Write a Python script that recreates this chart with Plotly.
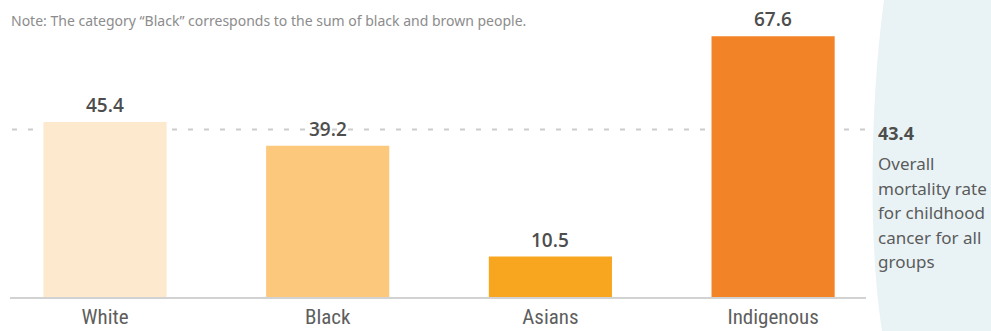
import plotly.graph_objects as go

# ---- data ----
categories = ["White", "Black", "Asians", "Indigenous"]
values = [45.4, 39.2, 10.5, 67.6]
bar_colors = ["#fde9cd", "#fcc87b", "#f8a61f", "#f38327"]
overall_value = 43.4
overall_lines = ["Overall", "mortality rate", "for childhood", "cancer for all", "groups"]
note_text = "Note: The category \u201cBlack\u201d corresponds to the sum of black and brown people."

# ---- layout geometry (pixels) ----
W, H = 991, 331
ML, MR, MT, MB = 10, 125, 27, 34
PW, PH = W - ML - MR, H - MT - MB


def px(x):
    return (x - ML) / PW


def py(y):
    return (H - MB - y) / PH


fig = go.Figure()
fig.add_trace(go.Bar(
    x=list(range(len(categories))),
    y=values,
    marker=dict(color=bar_colors, line=dict(width=0)),
    width=0.553,
    hoverinfo="skip",
))

annotations = []
for i, v in enumerate(values):
    annotations.append(dict(
        x=i, y=v, xref="x", yref="y", text=f"{v:.1f}", showarrow=False,
        yanchor="middle", yshift=17,
        font=dict(family="Open Sans", size=19, color="#4d4d4d", weight=600),
    ))

# overall value label
annotations.append(dict(
    x=px(876), y=overall_value, xref="paper", yref="y", text=f"{overall_value:.1f}",
    showarrow=False, xanchor="left", yanchor="middle", yshift=-3,
    font=dict(family="Noto Sans", size=18, color="#4d4d4d", weight=700),
))
for k, line in enumerate(overall_lines):
    annotations.append(dict(
        x=px(876), y=py(163.5 + 24.5 * k), xref="paper", yref="paper", text=line,
        showarrow=False, xanchor="left", yanchor="middle",
        font=dict(family="Noto Sans", size=17, color="#5b5b5b"),
    ))

# note
annotations.append(dict(
    x=px(9), y=py(20), xref="paper", yref="paper", text=note_text,
    showarrow=False, xanchor="left", yanchor="middle",
    font=dict(family="Noto Sans", size=14, color="#8c8c8c"),
))

shapes = [
    # light blue side panel with curved edge
    dict(type="path", xref="paper", yref="paper", layer="below",
         path=(f"M {px(884)},{py(0)} C {px(869)},{py(110)} {px(869)},{py(250)} {px(882)},{py(H)} "
               f"L {px(W + 5)},{py(H)} L {px(W + 5)},{py(0)} Z"),
         fillcolor="#e9f3f6", line=dict(width=0)),
    # dashed overall line
    dict(type="line", xref="paper", yref="y", x0=px(12), x1=px(866),
         y0=overall_value, y1=overall_value, layer="below",
         line=dict(color="#cccccc", width=2, dash="5px,11px")),
]

fig.update_layout(
    width=W, height=H,
    margin=dict(l=ML, r=MR, t=MT, b=MB, autoexpand=False),
    paper_bgcolor="white", plot_bgcolor="rgba(0,0,0,0)",
    showlegend=False,
    annotations=annotations,
    shapes=shapes,
    xaxis=dict(
        range=[-(105 - ML) / 222.7, -(105 - ML) / 222.7 + PW / 222.7],
        tickmode="array", tickvals=list(range(len(categories))), ticktext=categories,
        showgrid=False, zeroline=False, automargin=False,
        showline=True, linecolor="#d2d2d2", linewidth=2,
        ticks="", ticklen=0,
        tickfont=dict(family="Liberation Sans Narrow, Roboto Condensed, sans-serif", size=21, color="#5e5e5e"),
        fixedrange=True,
    ),
    yaxis=dict(range=[0, 70], visible=False, fixedrange=True, automargin=False),
)

fig.write_html("out.html", config={"displayModeBar": False})
